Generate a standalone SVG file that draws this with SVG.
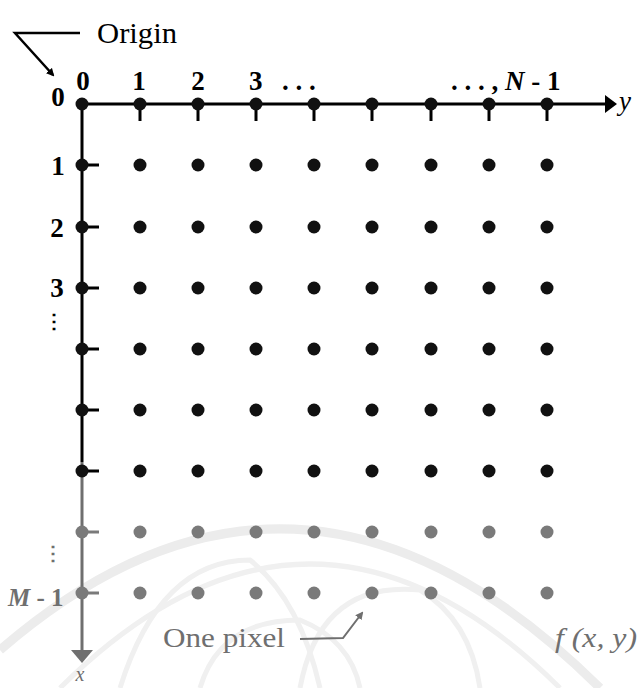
<svg xmlns="http://www.w3.org/2000/svg" width="641" height="688" viewBox="0 0 641 688">
<style>
text{font-family:"Liberation Serif","Times New Roman",serif}
.t{font-size:27px;font-weight:bold;fill:#000}
.g{fill:#6f6f6f}
.i{font-style:italic}
.px{fill:#111}
.pg{fill:#7a7a7a}
.ax{stroke:#000;stroke-width:3;fill:none}
.axg{stroke:#6f6f6f;stroke-width:3;fill:none}
.tk{stroke:#000;stroke-width:3}
.tkg{stroke:#7a7a7a;stroke-width:3}
.wm{fill:none;stroke:#ececec;stroke-width:9}
.wm2{fill:none;stroke:#f0f0f0;stroke-width:5}
</style>
<defs>
<marker id="ah" markerWidth="8" markerHeight="8" refX="6" refY="4" orient="auto" markerUnits="userSpaceOnUse">
<path d="M0,0 L8,4 L0,8 z" fill="#000"/>
</marker>
<marker id="ahg" markerWidth="8" markerHeight="8" refX="6" refY="4" orient="auto" markerUnits="userSpaceOnUse">
<path d="M0,0 L8,4 L0,8 z" fill="#6f6f6f"/>
</marker>
</defs>
<rect width="641" height="688" fill="#fff"/>
<g id="watermark">
<path class="wm" d="M0,650 Q300,390 600,688"/>
<path class="wm2" d="M60,688 Q310,440 560,688"/>
<path class="wm2" d="M120,688 Q160,560 250,560 Q300,600 320,688"/>
<path class="wm2" d="M300,688 Q320,580 420,590 Q470,620 480,688"/>
<path class="wm2" d="M200,688 Q220,620 300,620 Q350,640 360,688"/>
</g>
<g id="connectors">
<line class="ax" x1="82" y1="104" x2="607" y2="104"/>
<polygon points="605,95 617,104 605,113" fill="#000"/>
<line class="ax" x1="82" y1="104" x2="82" y2="462"/>
<line class="axg" x1="82" y1="462" x2="82" y2="652"/>
<polygon points="71,650 93,650 82,663" fill="#6f6f6f"/>
<g id="ticks-x">
<line class="tk" x1="140" y1="104" x2="140" y2="121"/>
<line class="tk" x1="198" y1="104" x2="198" y2="121"/>
<line class="tk" x1="256" y1="104" x2="256" y2="121"/>
<line class="tk" x1="314" y1="104" x2="314" y2="121"/>
<line class="tk" x1="372" y1="104" x2="372" y2="121"/>
<line class="tk" x1="431" y1="104" x2="431" y2="121"/>
<line class="tk" x1="489" y1="104" x2="489" y2="121"/>
<line class="tk" x1="547" y1="104" x2="547" y2="121"/>
</g>
<g id="ticks-y">
<line class="tk" x1="82" y1="165" x2="99" y2="165"/>
<line class="tk" x1="82" y1="227" x2="99" y2="227"/>
<line class="tk" x1="82" y1="288" x2="99" y2="288"/>
<line class="tk" x1="82" y1="349" x2="99" y2="349"/>
<line class="tk" x1="82" y1="410" x2="99" y2="410"/>
<line class="tk" x1="82" y1="471" x2="99" y2="471"/>
<line class="tkg" x1="82" y1="532" x2="99" y2="532"/>
<line class="tkg" x1="82" y1="593" x2="99" y2="593"/>
</g>
<path d="M80,33 L15,33 L53,75" stroke="#000" stroke-width="2.5" fill="none" marker-end="url(#ah)"/>
<path d="M300,639 L343,638 L362,613" stroke="#6f6f6f" stroke-width="2" fill="none" marker-end="url(#ahg)"/>
</g>
<g id="pixels">
<g id="row0">
<circle class="px" cx="82" cy="104" r="6.5"/><circle class="px" cx="140" cy="104" r="6.5"/><circle class="px" cx="198" cy="104" r="6.5"/><circle class="px" cx="256" cy="104" r="6.5"/><circle class="px" cx="314" cy="104" r="6.5"/><circle class="px" cx="372" cy="104" r="6.5"/><circle class="px" cx="431" cy="104" r="6.5"/><circle class="px" cx="489" cy="104" r="6.5"/><circle class="px" cx="547" cy="104" r="6.5"/>
</g>
<g id="row1">
<circle class="px" cx="82" cy="165" r="6.5"/><circle class="px" cx="140" cy="165" r="6.5"/><circle class="px" cx="198" cy="165" r="6.5"/><circle class="px" cx="256" cy="165" r="6.5"/><circle class="px" cx="314" cy="165" r="6.5"/><circle class="px" cx="372" cy="165" r="6.5"/><circle class="px" cx="431" cy="165" r="6.5"/><circle class="px" cx="489" cy="165" r="6.5"/><circle class="px" cx="547" cy="165" r="6.5"/>
</g>
<g id="row2">
<circle class="px" cx="82" cy="227" r="6.5"/><circle class="px" cx="140" cy="227" r="6.5"/><circle class="px" cx="198" cy="227" r="6.5"/><circle class="px" cx="256" cy="227" r="6.5"/><circle class="px" cx="314" cy="227" r="6.5"/><circle class="px" cx="372" cy="227" r="6.5"/><circle class="px" cx="431" cy="227" r="6.5"/><circle class="px" cx="489" cy="227" r="6.5"/><circle class="px" cx="547" cy="227" r="6.5"/>
</g>
<g id="row3">
<circle class="px" cx="82" cy="288" r="6.5"/><circle class="px" cx="140" cy="288" r="6.5"/><circle class="px" cx="198" cy="288" r="6.5"/><circle class="px" cx="256" cy="288" r="6.5"/><circle class="px" cx="314" cy="288" r="6.5"/><circle class="px" cx="372" cy="288" r="6.5"/><circle class="px" cx="431" cy="288" r="6.5"/><circle class="px" cx="489" cy="288" r="6.5"/><circle class="px" cx="547" cy="288" r="6.5"/>
</g>
<g id="row4">
<circle class="px" cx="82" cy="349" r="6.5"/><circle class="px" cx="140" cy="349" r="6.5"/><circle class="px" cx="198" cy="349" r="6.5"/><circle class="px" cx="256" cy="349" r="6.5"/><circle class="px" cx="314" cy="349" r="6.5"/><circle class="px" cx="372" cy="349" r="6.5"/><circle class="px" cx="431" cy="349" r="6.5"/><circle class="px" cx="489" cy="349" r="6.5"/><circle class="px" cx="547" cy="349" r="6.5"/>
</g>
<g id="row5">
<circle class="px" cx="82" cy="410" r="6.5"/><circle class="px" cx="140" cy="410" r="6.5"/><circle class="px" cx="198" cy="410" r="6.5"/><circle class="px" cx="256" cy="410" r="6.5"/><circle class="px" cx="314" cy="410" r="6.5"/><circle class="px" cx="372" cy="410" r="6.5"/><circle class="px" cx="431" cy="410" r="6.5"/><circle class="px" cx="489" cy="410" r="6.5"/><circle class="px" cx="547" cy="410" r="6.5"/>
</g>
<g id="row6">
<circle class="px" cx="82" cy="471" r="6.5"/><circle class="px" cx="140" cy="471" r="6.5"/><circle class="px" cx="198" cy="471" r="6.5"/><circle class="px" cx="256" cy="471" r="6.5"/><circle class="px" cx="314" cy="471" r="6.5"/><circle class="px" cx="372" cy="471" r="6.5"/><circle class="px" cx="431" cy="471" r="6.5"/><circle class="px" cx="489" cy="471" r="6.5"/><circle class="px" cx="547" cy="471" r="6.5"/>
</g>
<g id="row7">
<circle class="pg" cx="82" cy="532" r="6.5"/><circle class="pg" cx="140" cy="532" r="6.5"/><circle class="pg" cx="198" cy="532" r="6.5"/><circle class="pg" cx="256" cy="532" r="6.5"/><circle class="pg" cx="314" cy="532" r="6.5"/><circle class="pg" cx="372" cy="532" r="6.5"/><circle class="pg" cx="431" cy="532" r="6.5"/><circle class="pg" cx="489" cy="532" r="6.5"/><circle class="pg" cx="547" cy="532" r="6.5"/>
</g>
<g id="row8">
<circle class="pg" cx="82" cy="593" r="6.5"/><circle class="pg" cx="140" cy="593" r="6.5"/><circle class="pg" cx="198" cy="593" r="6.5"/><circle class="pg" cx="256" cy="593" r="6.5"/><circle class="pg" cx="314" cy="593" r="6.5"/><circle class="pg" cx="372" cy="593" r="6.5"/><circle class="pg" cx="431" cy="593" r="6.5"/><circle class="pg" cx="489" cy="593" r="6.5"/><circle class="pg" cx="547" cy="593" r="6.5"/>
</g>
</g>
<g id="labels">
<text class="t" x="97" y="43" textLength="80" lengthAdjust="spacingAndGlyphs" style="font-weight:normal;font-size:29px">Origin</text>
<text class="t" x="83" y="90" text-anchor="middle">0</text>
<text class="t" x="139" y="90" text-anchor="middle">1</text>
<text class="t" x="198" y="90" text-anchor="middle">2</text>
<text class="t" x="249" y="90">3<tspan x="282">. . .</tspan></text>
<text class="t" x="451" y="90">. . . , <tspan class="i">N</tspan> - 1</text>
<text class="t" x="58" y="106" text-anchor="middle">0</text>
<text class="t" x="58" y="175" text-anchor="middle">1</text>
<text class="t" x="57" y="237" text-anchor="middle">2</text>
<text class="t" x="57" y="297" text-anchor="middle">3</text>
<text class="t" x="54" y="328" text-anchor="middle" style="font-size:20px">⋮</text>
<text class="t g" x="53" y="560" text-anchor="middle" style="font-size:20px">⋮</text>
<text class="t g" x="8" y="606" style="font-size:25px"><tspan class="i">M</tspan> - 1</text>
<text class="t g" x="163" y="647" textLength="122" lengthAdjust="spacingAndGlyphs" style="font-weight:normal">One pixel</text>
<text class="t g i" x="555" y="647" textLength="82" lengthAdjust="spacingAndGlyphs" style="font-weight:normal">f (x, y)</text>
<text class="t i" x="619" y="110" style="font-weight:normal">y</text>
<text class="t g i" x="80" y="681" text-anchor="middle" style="font-weight:normal;font-size:20px">x</text>
</g>
</svg>
